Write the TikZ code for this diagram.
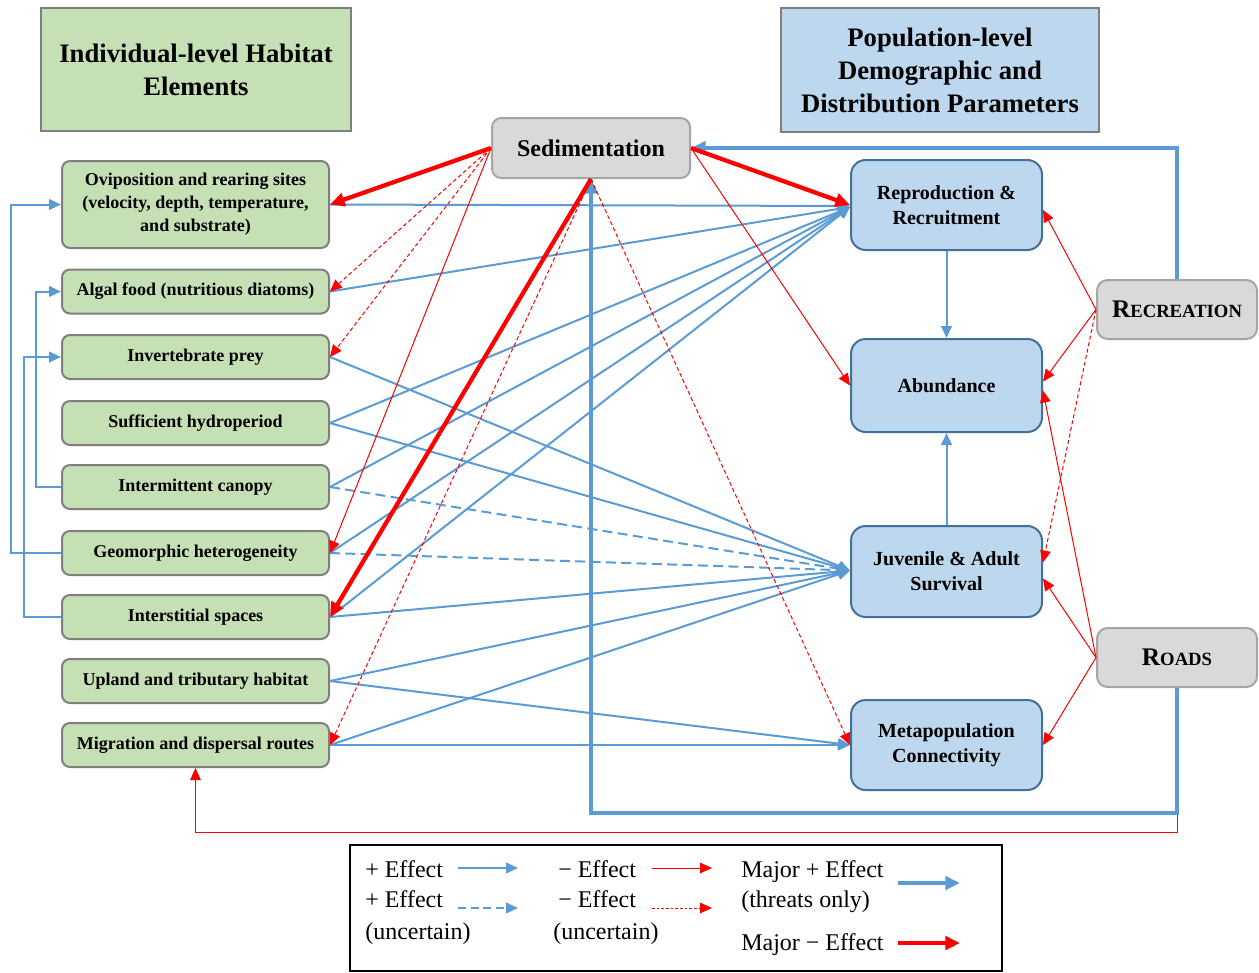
\documentclass[tikz,border=0pt]{standalone}
\usepackage{fontspec}
\setmainfont{Liberation Serif}[BoldFont={Liberation Serif Bold}]
\usetikzlibrary{arrows.meta,calc}
\definecolor{habgreen}{HTML}{C5E0B4}
\definecolor{popblue}{HTML}{BDD7EE}
\definecolor{popedge}{HTML}{41719C}
\definecolor{threatgray}{HTML}{D9D9D9}
\definecolor{grayedge}{HTML}{A5A5A5}
\definecolor{greenedge}{HTML}{7F7F7F}
\definecolor{posblue}{HTML}{5B9BD5}
\definecolor{negred}{HTML}{FF0000}

\begin{document}
\begin{tikzpicture}[x=0.75pt,y=-0.75pt,
  header/.style={draw=greenedge, line width=1.5pt, inner sep=0pt, align=center,
    font=\bfseries\fontsize{20}{24.75}\selectfont},
  habitat/.style={draw=greenedge, fill=habgreen, line width=1.5pt, rounded corners=6pt,
    minimum width=200.25pt, minimum height=33pt, inner sep=0pt, align=center,
    font=\bfseries\fontsize{13.5}{17.25}\selectfont},
  param/.style={draw=popedge, fill=popblue, line width=1.5pt, rounded corners=11pt,
    minimum width=143.25pt, inner sep=0pt, align=center,
    font=\bfseries\fontsize{15}{18.75}\selectfont},
  threat/.style={draw=grayedge, fill=threatgray, line width=1.5pt, rounded corners=8pt,
    minimum width=120pt, minimum height=44.25pt, inner sep=0pt, align=center,
    font=\bfseries\fontsize{19}{20}\selectfont},
  poseff/.style={draw=posblue, line width=1.5pt, -{Triangle[length=9pt,width=8pt]}},
  posuncert/.style={poseff, dash pattern=on 7.5pt off 4pt},
  majposeff/.style={draw=posblue, line width=3pt, -{Triangle[length=11pt,width=10pt]}},
  negeff/.style={draw=negred, line width=0.75pt, -{Triangle[length=9pt,width=8pt]}},
  neguncert/.style={negeff, dash pattern=on 3pt off 2pt},
  majnegeff/.style={draw=negred, line width=3.2pt, -{Triangle[length=11pt,width=10pt]}},
  legtext/.style={inner sep=0pt, anchor=base west, font=\fontsize{18}{20}\selectfont}
]
\useasboundingbox (0,0) rectangle (1259,972);

% ---- headers ----
\node[header, fill=habgreen, minimum width=232.5pt, minimum height=92.25pt] (hdrL) at (196,69.5)
  {Individual-level Habitat\\Elements};
\node[header, fill=popblue, minimum width=238.5pt, minimum height=93pt] (hdrR) at (940,70)
  {Population-level\\Demographic and\\Distribution Parameters};

% ---- threats ----
\node[threat, minimum width=148.5pt, minimum height=45pt, rounded corners=7pt,
  font=\bfseries\fontsize{18}{20}\selectfont] (sed) at (591,148) {Sedimentation};
\node[threat] (rec) at (1177,309.5) {R{\fontsize{14}{14}\selectfont ECREATION}};
\node[threat] (roa) at (1177,657.5) {R{\fontsize{14}{14}\selectfont OADS}};

% ---- habitat elements ----
\node[habitat, minimum height=65.25pt] (ovi) at (195.5,204.5)
  {Oviposition and rearing sites\\(velocity, depth, temperature,\\and substrate)};
\node[habitat] (alg) at (195.5,291.5) {Algal food (nutritious diatoms)};
\node[habitat] (inv) at (195.5,357) {Invertebrate prey};
\node[habitat] (hyd) at (195.5,423) {Sufficient hydroperiod};
\node[habitat] (can) at (195.5,487) {Intermittent canopy};
\node[habitat] (geo) at (195.5,553) {Geomorphic heterogeneity};
\node[habitat] (int) at (195.5,617) {Interstitial spaces};
\node[habitat] (upl) at (195.5,681) {Upland and tributary habitat};
\node[habitat] (mig) at (195.5,745) {Migration and dispersal routes};

% ---- population parameters ----
\node[param, minimum height=67.5pt] (rep) at (946.5,205) {Reproduction \&\\Recruitment};
\node[param, minimum height=69.75pt] (abu) at (946.5,385.5) {Abundance};
\node[param, minimum height=68.25pt] (juv) at (946.5,571.5) {Juvenile \& Adult\\Survival};
\node[param, minimum height=67.5pt] (met) at (946.5,745) {Metapopulation\\Connectivity};

% ---- loop coordinates ----
\coordinate (loopB) at (0,813);
\coordinate (loopR) at (0,832);

% ---- habitat feedback links ----
\draw[poseff] (geo.west) -- ++(-50,0) |- (ovi.west);
\draw[poseff] (can.west) -- ++(-25,0) |- (alg.west);
\draw[poseff] (int.west) -- ++(-37,0) |- (inv.west);

% ---- positive effects on reproduction ----
\draw[poseff] (ovi.east) -- ($(rep.west)+(0,1)$);
\draw[poseff] (alg.east) -- ($(rep.west)+(0,2)$);
\draw[poseff] (hyd.east) -- ($(rep.west)+(0,2)$);
\draw[poseff] (can.east) -- ($(rep.west)+(0,2)$);
\draw[poseff] (geo.east) -- ($(rep.west)+(0,2)$);
\draw[poseff] (int.east) -- ($(rep.west)+(0,2)$);

% ---- positive effects on survival ----
\draw[poseff] (inv.east) -- ($(juv.west)+(0,-1)$);
\draw[poseff] (hyd.east) -- ($(juv.west)+(0,-1)$);
\draw[posuncert] (can.east) -- ($(juv.west)+(0,-1)$);
\draw[posuncert] (geo.east) -- ($(juv.west)+(0,-1)$);
\draw[poseff] (int.east) -- ($(juv.west)+(0,-1)$);
\draw[poseff] (upl.east) -- ($(juv.west)+(0,-1)$);
\draw[poseff] (mig.east) -- ($(juv.west)+(0,-1)$);

% ---- positive effects on connectivity ----
\draw[poseff] (upl.east) -- (met.west);
\draw[poseff] (mig.east) -- (met.west);

% ---- population links ----
\draw[poseff] (rep.south) -- (abu.north);
\draw[poseff] (juv.north) -- (abu.south);

% ---- roads: effect on migration routes ----
\draw[negeff] (roa.south) -- (roa.south |- loopR) -| (mig.south);

% ---- threats increasing sedimentation ----
\draw[majposeff] (rec.north) |- (sed.east);
\draw[majposeff] (roa.south) -- (roa.south |- loopB) -| (sed.south);

% ---- sedimentation effects ----
\draw[majnegeff] (sed.west) -- (ovi.east);
\draw[neguncert] (sed.west) -- (alg.east);
\draw[neguncert] (sed.west) -- (inv.east);
\draw[negeff] (sed.west) -- (geo.east);
\draw[majnegeff] (sed.south) -- (int.east);
\draw[neguncert] (sed.south) -- (mig.east);
\draw[neguncert] (sed.south) -- (met.west);
\draw[majnegeff] (sed.east) -- (rep.west);
\draw[negeff] (sed.east) -- (abu.west);

% ---- recreation and roads effects ----
\draw[negeff] (rec.west) -- ($(rep.east)+(0,5)$);
\draw[negeff] (rec.west) -- ($(abu.east)+(0,-4)$);
\draw[neguncert] (rec.west) -- ($(juv.east)+(0,-9)$);
\draw[negeff] (roa.west) -- ($(abu.east)+(0,5)$);
\draw[negeff] (roa.west) -- ($(juv.east)+(0,7)$);
\draw[negeff] (roa.west) -- (met.east);

% ---- legend ----
\node[draw=black, line width=1.5pt, minimum width=489pt, minimum height=94.5pt, inner sep=0pt]
  (legend) at (676,908) {};
\node[legtext] (lpos) at (365,877) {+ Effect};
\node[legtext] (lposu) at (365,907) {+ Effect};
\node[legtext] (lposu2) at (365,939) {(uncertain)};
\node[legtext] (lneg) at (558,877) {− Effect};
\node[legtext] (lnegu) at (558,907) {− Effect};
\node[legtext] (lnegu2) at (553,939) {(uncertain)};
\node[legtext] (lmpos) at (741,877) {Major + Effect};
\node[legtext] (lmpos2) at (741,907) {(threats only)};
\node[legtext] (lmneg) at (741,950) {Major − Effect};
\coordinate (a1s) at (458,868); \coordinate (a1e) at (518,868);
\coordinate (a2s) at (458,908); \coordinate (a2e) at (518,908);
\coordinate (a3s) at (652,868); \coordinate (a3e) at (712,868);
\coordinate (a4s) at (652,908); \coordinate (a4e) at (712,908);
\coordinate (a5s) at (898,883); \coordinate (a5e) at (960,883);
\coordinate (a6s) at (898,943); \coordinate (a6e) at (960,943);
\draw[poseff] (a1s) -- (a1e);
\draw[posuncert, dash pattern=on 6pt off 3.5pt] (a2s) -- (a2e);
\draw[negeff] (a3s) -- (a3e);
\draw[neguncert, dash pattern=on 2pt off 1.5pt] (a4s) -- (a4e);
\draw[majposeff] (a5s) -- (a5e);
\draw[majnegeff] (a6s) -- (a6e);
\end{tikzpicture}
\end{document}
